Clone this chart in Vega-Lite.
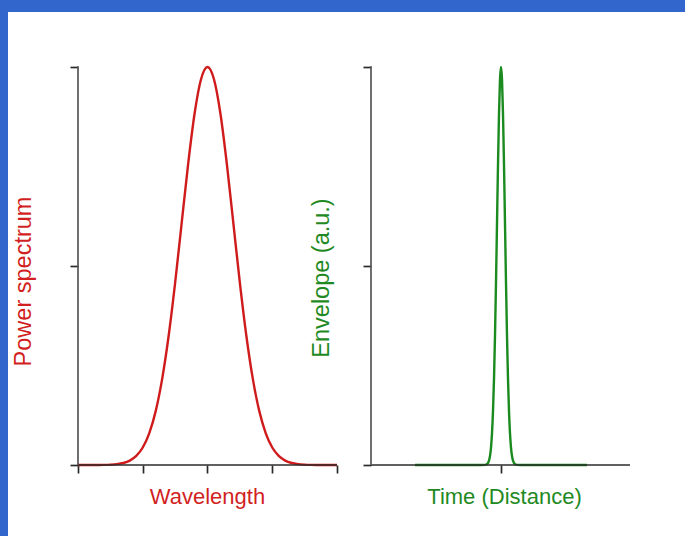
{
  "$schema": "https://vega.github.io/schema/vega-lite/v6.json",
  "background": "#3366cc",
  "padding": {"left": 8, "top": 12, "right": 0, "bottom": 0},
  "spacing": 0,
  "bounds": "flush",
  "datasets": {
    "spectrum": [
      {"wl": 0.0, "p": 0}, {"wl": 0.1, "p": 0}, {"wl": 0.2, "p": 0}, {"wl": 0.3, "p": 0.0001},
      {"wl": 0.4, "p": 0.0003}, {"wl": 0.5, "p": 0.0009}, {"wl": 0.6, "p": 0.0022}, {"wl": 0.7, "p": 0.0051},
      {"wl": 0.8, "p": 0.0111}, {"wl": 0.9, "p": 0.0228}, {"wl": 1.0, "p": 0.0439}, {"wl": 1.1, "p": 0.0796},
      {"wl": 1.2, "p": 0.1353}, {"wl": 1.3, "p": 0.2163}, {"wl": 1.4, "p": 0.3247}, {"wl": 1.5, "p": 0.4578},
      {"wl": 1.6, "p": 0.6065}, {"wl": 1.7, "p": 0.7548}, {"wl": 1.8, "p": 0.8825}, {"wl": 1.9, "p": 0.9692},
      {"wl": 2.0, "p": 1},
      {"wl": 2.1, "p": 0.9692}, {"wl": 2.2, "p": 0.8825}, {"wl": 2.3, "p": 0.7548}, {"wl": 2.4, "p": 0.6065},
      {"wl": 2.5, "p": 0.4578}, {"wl": 2.6, "p": 0.3247}, {"wl": 2.7, "p": 0.2163}, {"wl": 2.8, "p": 0.1353},
      {"wl": 2.9, "p": 0.0796}, {"wl": 3.0, "p": 0.0439}, {"wl": 3.1, "p": 0.0228}, {"wl": 3.2, "p": 0.0111},
      {"wl": 3.3, "p": 0.0051}, {"wl": 3.4, "p": 0.0022}, {"wl": 3.5, "p": 0.0009}, {"wl": 3.6, "p": 0.0003},
      {"wl": 3.7, "p": 0.0001}, {"wl": 3.8, "p": 0}, {"wl": 3.9, "p": 0}, {"wl": 4.0, "p": 0}
    ],
    "envelope": [
      {"t": -8.6, "e": 0}, {"t": -2.0, "e": 0}, {"t": -1.6, "e": 0.0003}, {"t": -1.4, "e": 0.0022},
      {"t": -1.2, "e": 0.0111}, {"t": -1.0, "e": 0.0439}, {"t": -0.9, "e": 0.0796}, {"t": -0.8, "e": 0.1353},
      {"t": -0.7, "e": 0.2163}, {"t": -0.6, "e": 0.3247}, {"t": -0.5, "e": 0.4578}, {"t": -0.4, "e": 0.6065},
      {"t": -0.3, "e": 0.7548}, {"t": -0.2, "e": 0.8825}, {"t": -0.1, "e": 0.9692}, {"t": 0.0, "e": 1},
      {"t": 0.1, "e": 0.9692}, {"t": 0.2, "e": 0.8825}, {"t": 0.3, "e": 0.7548}, {"t": 0.4, "e": 0.6065},
      {"t": 0.5, "e": 0.4578}, {"t": 0.6, "e": 0.3247}, {"t": 0.7, "e": 0.2163}, {"t": 0.8, "e": 0.1353},
      {"t": 0.9, "e": 0.0796}, {"t": 1.0, "e": 0.0439}, {"t": 1.2, "e": 0.0111}, {"t": 1.4, "e": 0.0022},
      {"t": 1.6, "e": 0.0003}, {"t": 2.0, "e": 0}, {"t": 8.6, "e": 0}
    ]
  },
  "config": {
    "view": {"fill": "white", "stroke": null},
    "axis": {
      "domain": false,
      "grid": false,
      "labels": false,
      "ticks": true,
      "tickSize": 8,
      "tickWidth": 1.7,
      "tickColor": "#2b2b2b",
      "minExtent": 0,
      "titleFont": "Liberation Sans",
      "titleFontWeight": "normal",
      "titleBaseline": "alphabetic",
      "titleAlign": "center"
    }
  },
  "hconcat": [
    {
      "width": 342,
      "height": 524,
      "layer": [
        {
          "data": {"name": "spectrum"},
          "mark": {"type": "line", "color": "#cf1b1b", "strokeWidth": 2.4, "interpolate": "monotone"},
          "encoding": {
            "x": {
              "field": "wl", "type": "quantitative",
              "scale": {"domain": [-1.0811, 4.2008], "nice": false, "zero": false},
              "axis": {"orient": "bottom", "offset": -71, "values": [0, 1, 2, 3, 4],
                       "title": "Wavelength", "titleColor": "#d21f1f", "titleFontSize": 22,
                       "titleX": 199, "titleY": 38}
            },
            "y": {
              "field": "p", "type": "quantitative",
              "scale": {"domain": [-0.1784, 1.1382], "nice": false, "zero": false},
              "axis": {"orient": "left", "offset": -70, "values": [0, 0.5, 1],
                       "title": "Power spectrum", "titleColor": "#d21f1f", "titleFontSize": 23.5,
                       "titleAngle": -90, "titleX": -48, "titleY": 269}
            }
          }
        },
        {
          "data": {"values": [{}]},
          "mark": {"type": "rule", "color": "#2b2b2b", "strokeWidth": 1.7},
          "encoding": {
            "x": {"datum": 0, "type": "quantitative"},
            "x2": {"datum": 4},
            "y": {"datum": 0, "type": "quantitative"}
          }
        },
        {
          "data": {"values": [{}]},
          "mark": {"type": "rule", "color": "#555555", "strokeWidth": 1.7},
          "encoding": {
            "x": {"datum": 0, "type": "quantitative"},
            "y": {"datum": 0, "type": "quantitative"},
            "y2": {"datum": 1.002}
          }
        }
      ]
    },
    {
      "width": 335,
      "height": 524,
      "layer": [
        {
          "data": {"name": "envelope"},
          "mark": {"type": "line", "color": "#1b8a1f", "strokeWidth": 2.4, "interpolate": "monotone"},
          "encoding": {
            "x": {
              "field": "t", "type": "quantitative",
              "scale": {"domain": [-15.1, 18.4], "nice": false, "zero": false},
              "axis": {"orient": "bottom", "offset": -71, "values": [0],
                       "title": "Time (Distance)", "titleColor": "#1f8a23", "titleFontSize": 22,
                       "titleX": 154, "titleY": 38}
            },
            "y": {
              "field": "e", "type": "quantitative",
              "scale": {"domain": [-0.1784, 1.1382], "nice": false, "zero": false},
              "axis": {"orient": "left", "offset": -21, "values": [0, 0.5, 1],
                       "title": "Envelope (a.u.)", "titleColor": "#1f8a23", "titleFontSize": 23.5,
                       "titleAngle": -90, "titleX": -43, "titleY": 265.5}
            }
          }
        },
        {
          "data": {"values": [{}]},
          "mark": {"type": "rule", "color": "#2b2b2b", "strokeWidth": 1.7},
          "encoding": {
            "x": {"datum": -13, "type": "quantitative"},
            "x2": {"datum": 12.9},
            "y": {"datum": 0, "type": "quantitative"}
          }
        },
        {
          "data": {"values": [{}]},
          "mark": {"type": "rule", "color": "#555555", "strokeWidth": 1.7},
          "encoding": {
            "x": {"datum": -13, "type": "quantitative"},
            "y": {"datum": 0, "type": "quantitative"},
            "y2": {"datum": 1.002}
          }
        }
      ]
    }
  ]
}
